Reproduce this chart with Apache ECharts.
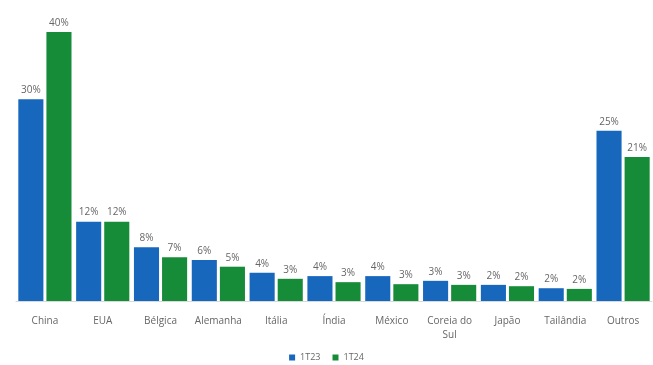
<!DOCTYPE html>
<html>
<head>
<meta charset="utf-8">
<script src="https://cdn.jsdelivr.net/npm/echarts@6/dist/echarts.min.js"></script>
<style>html,body{margin:0;padding:0;background:#fff}#main{width:653px;height:365px}</style>
</head>
<body>
<div id="main"></div>
<script>
var paises = ['China', 'EUA', 'Bélgica', 'Alemanha', 'Itália', 'Índia', 'México', 'Coreia do\nSul', 'Japão', 'Tailândia', 'Outros'];
var v1T23 = [30, 11.8, 8.0, 6.1, 4.2, 3.7, 3.7, 3.0, 2.4, 1.9, 25.3];
var v1T24 = [40, 11.8, 6.5, 5.1, 3.3, 2.8, 2.5, 2.4, 2.2, 1.8, 21.4];
var rot1T23 = ['30%', '12%', '8%', '6%', '4%', '4%', '4%', '3%', '2%', '2%', '25%'];
var rot1T24 = ['40%', '12%', '7%', '5%', '3%', '3%', '3%', '3%', '2%', '2%', '21%'];

var chart = echarts.init(document.getElementById('main'));

function rotulo(arr) {
    return {
        show: true,
        position: 'top',
        distance: 4,
        color: '#666666',
        fontSize: 10,
        fontFamily: 'Open Sans',
        formatter: function (p) { return arr[p.dataIndex]; }
    };
}

chart.setOption({
    animation: false,
    grid: { left: 16, right: 1, top: 32, bottom: 64 },
    legend: {
        bottom: -2,
        left: 'center',
        itemWidth: 6,
        itemHeight: 6,
        itemGap: 12,
        icon: 'rect',
        textStyle: { color: '#666666', fontSize: 9, fontFamily: 'Open Sans' },
        data: ['1T23', '1T24']
    },
    xAxis: {
        type: 'category',
        data: paises,
        axisLine: { lineStyle: { color: '#d9d9d9' } },
        axisTick: { show: false },
        axisLabel: { color: '#666666', fontSize: 10, fontFamily: 'Open Sans', margin: 13, interval: 0, lineHeight: 14 }
    },
    yAxis: {
        type: 'value',
        min: 0,
        max: 40,
        show: false,
        splitLine: { show: false }
    },
    series: [
        {
            name: '1T23',
            type: 'bar',
            data: v1T23,
            barGap: '12%',
            barCategoryGap: '8%',
            itemStyle: { color: '#1767bd' },
            label: rotulo(rot1T23)
        },
        {
            name: '1T24',
            type: 'bar',
            data: v1T24,
            itemStyle: { color: '#168c38' },
            label: rotulo(rot1T24)
        }
    ]
});
</script>
</body>
</html>
